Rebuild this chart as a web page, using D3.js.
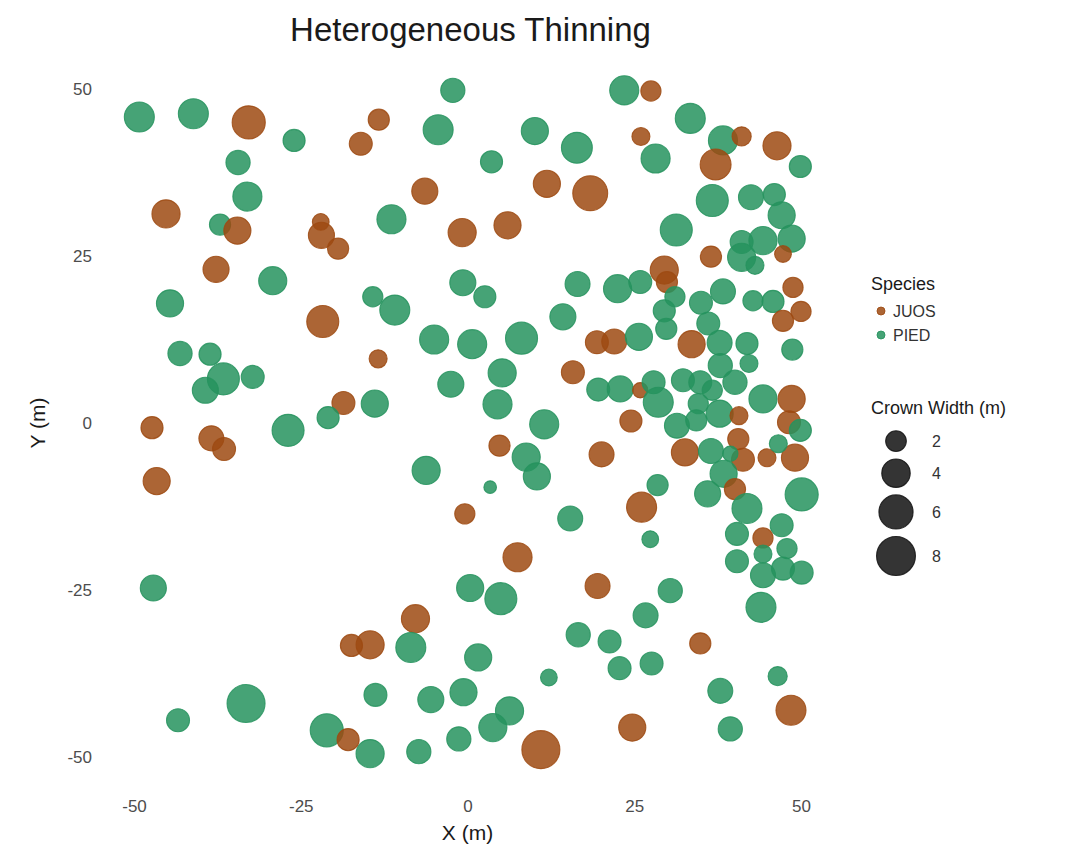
<!DOCTYPE html>
<html>
<head>
<meta charset="utf-8">
<script src="https://cdn.jsdelivr.net/npm/d3@7"></script>
<style>
  html, body { margin: 0; padding: 0; background: #ffffff; }
  svg { display: block; font-family: "Liberation Sans", Arial, Helvetica, sans-serif; }
</style>
</head>
<body>
<div id="chart"></div>
<script>
// ---- Data ----
const title = "Heterogeneous Thinning";
const xLabel = "X (m)";
const yLabel = "Y (m)";
const speciesNames = ["JUOS", "PIED"];
const xTicks = [-50, -25, 0, 25, 50];
const yTicks = [-50, -25, 0, 25, 50];
const sizeBreaks = [2, 4, 6, 8];
const sizeDomain = [0.5, 9];

const treeX = [
  -49.2,-41.1,-32.8,-26.0,-34.4,-33.0,-45.2,-37.1,-34.5,-22.0,-21.9,-19.4,-37.7,-29.2,-44.6,-21.7,
  -2.2,-13.3,-16.0,-4.4,10.1,16.4,3.6,-6.4,11.9,18.4,-11.4,-0.8,6.0,-0.7,2.6,16.5,-14.2,-10.9,14.3,
  23.5,27.5,33.4,26.0,28.2,38.3,41.1,46.4,49.9,37.2,36.7,42.5,46.0,47.1,31.3,41.1,44.3,48.6,41.1,43.1,
  47.3,36.5,29.5,29.9,31.1,22.5,25.9,29.5,35.0,38.3,42.8,45.8,48.8,50.0,47.3,29.8,19.4,22.0,25.7,36.1,
  33.6,37.8,41.9,42.2,48.7,37.9,19.6,22.9,25.9,27.9,28.6,32.3,34.9,36.7,40.1,44.3,48.6,34.6,31.4,34.3,
  37.8,40.7,48.2,49.9,24.5,20.1,32.6,36.5,40.6,41.3,39.4,44.9,49.1,46.6,38.4,28.5,26.1,36.0,40.1,41.9,
  50.1,47.1,40.4,44.3,27.4,47.9,40.4,44.3,44.3,47.3,50.1,44.0,19.5,30.4,26.7,21.3,22.8,27.6,34.9,37.9,
  39.4,46.5,48.5,24.7,7.5,0.4,5.0,-7.8,-14.6,-8.5,1.6,16.6,12.2,-13.8,-5.5,-0.6,6.3,3.8,-1.3,-7.3,-14.6,
  11.0,-47.1,-43.4,-33.2,-21.1,-17.9,-17.4,-43.1,-38.6,-36.6,-39.3,-32.2,-18.6,-20.9,-26.9,-47.3,-38.4,
  -36.5,-46.6,-5.0,0.7,8.1,-13.4,15.8,-2.5,5.2,4.5,-13.9,11.5,4.8,8.8,10.4,-6.2,3.4,-0.4,15.4
];
const treeY = [
  45.8,46.3,45.0,42.3,39.0,33.9,31.3,29.7,28.8,30.1,28.1,26.1,23.0,21.3,17.9,15.2,
  49.8,45.4,41.8,43.9,43.7,41.2,39.1,34.7,35.8,34.4,30.5,28.5,29.6,21.0,18.9,20.8,18.9,16.9,15.9,
  49.8,49.7,45.6,42.9,39.6,42.3,42.9,41.5,38.4,38.7,33.3,33.8,34.2,31.1,28.9,27.1,27.3,27.6,24.8,23.6,
  25.3,24.9,22.9,21.1,18.9,20.1,21.1,16.8,18.0,19.7,18.3,18.2,20.3,16.7,15.3,14.1,12.1,12.2,12.9,14.9,
  11.8,12.0,11.9,8.9,11.0,8.6,5.0,5.1,4.9,6.1,3.1,6.4,6.1,4.9,6.1,3.6,3.6,2.9,-0.4,0.4,
  1.4,1.1,0.1,-1.1,0.3,-4.7,-4.4,-4.2,-2.4,-5.5,-4.6,-5.2,-5.2,-3.1,-7.6,-9.3,-12.6,-10.6,-9.9,-12.8,
  -10.7,-15.3,-16.6,-17.2,-17.4,-18.8,-20.7,-19.6,-22.8,-21.8,-22.4,-27.6,-24.4,-25.1,-28.8,-32.7,-36.7,-36.0,-33.0,-40.1,
  -45.8,-37.9,-43.0,-45.6,-20.1,-24.7,-26.3,-29.3,-33.2,-33.6,-35.1,-31.7,-38.1,-40.7,-41.4,-40.3,-43.1,-45.6,-47.3,-49.2,-49.5,
  -48.9,-24.7,-44.5,-42.0,-46.0,-47.4,-33.3,10.4,10.3,6.6,4.9,6.9,3.0,0.8,-1.1,-0.7,-2.3,
  -3.9,-8.7,12.5,11.8,12.7,9.6,7.6,5.8,7.5,2.8,2.9,-0.2,-3.4,-5.1,-8.0,-7.1,-9.6,-13.6,-14.3
];
const crownWidth = [
  4.5,4.5,5.6,2.3,2.8,4.2,3.9,2.1,3.6,1.3,3.3,2.1,3.3,3.9,3.6,5.2,
  2.8,2.1,2.5,4.5,3.6,4.8,2.3,3.3,3.6,6.3,4.2,3.9,3.6,3.3,2.3,3.0,1.9,4.5,3.3,
  4.2,1.9,4.5,1.5,4.2,4.2,1.7,3.9,2.3,4.8,5.2,3.0,2.3,3.6,5.2,2.5,3.9,3.6,3.9,1.5,
  1.3,2.1,3.9,2.1,1.9,3.9,2.5,2.3,2.5,3.0,1.9,2.3,1.9,1.9,2.1,2.1,2.5,3.0,3.6,2.5,
  3.6,3.0,2.3,1.5,2.1,2.8,2.5,3.3,1.1,2.5,4.5,2.5,2.5,1.9,2.8,3.9,3.6,1.9,3.0,2.1,
  3.6,1.5,2.5,2.3,2.3,3.0,3.6,3.0,2.1,2.5,1.1,1.5,3.6,1.5,3.6,2.1,4.5,3.3,2.1,4.5,
  5.6,2.5,2.5,1.9,1.3,1.9,2.5,1.5,3.0,2.5,2.5,4.5,3.0,2.8,3.0,2.5,2.5,2.5,2.1,3.0,
  2.8,1.7,4.5,3.6,4.2,3.6,5.2,3.9,3.9,4.5,3.6,2.8,1.3,2.5,3.3,3.6,3.9,3.9,2.8,2.8,3.9,
  7.6,3.3,2.5,7.6,5.6,2.3,2.3,2.8,2.3,5.2,3.3,2.5,2.5,2.3,5.2,2.3,3.0,
  2.5,3.6,4.2,4.2,5.2,1.5,2.5,3.3,3.9,4.2,3.6,4.2,2.1,3.9,3.6,3.9,0.8,1.9,3.0
];
const species = [
  "PIED","PIED","JUOS","PIED","PIED","PIED","JUOS","PIED","JUOS","JUOS","JUOS","JUOS","JUOS","PIED","PIED","JUOS",
  "PIED","JUOS","JUOS","PIED","PIED","PIED","PIED","JUOS","JUOS","JUOS","PIED","JUOS","JUOS","PIED","PIED","PIED","PIED","PIED","PIED",
  "PIED","JUOS","PIED","JUOS","PIED","PIED","JUOS","JUOS","PIED","JUOS","PIED","PIED","PIED","PIED","PIED","PIED","PIED","PIED","PIED","PIED",
  "JUOS","JUOS","JUOS","JUOS","PIED","PIED","PIED","PIED","PIED","PIED","PIED","PIED","JUOS","JUOS","JUOS","PIED","JUOS","JUOS","PIED","PIED",
  "JUOS","PIED","PIED","PIED","PIED","PIED","PIED","PIED","JUOS","PIED","PIED","PIED","PIED","PIED","PIED","PIED","JUOS","PIED","PIED","PIED",
  "PIED","JUOS","JUOS","PIED","JUOS","JUOS","JUOS","PIED","JUOS","JUOS","PIED","JUOS","JUOS","PIED","PIED","PIED","JUOS","PIED","JUOS","PIED",
  "PIED","PIED","PIED","JUOS","PIED","PIED","PIED","PIED","PIED","PIED","PIED","PIED","JUOS","PIED","PIED","PIED","PIED","PIED","JUOS","PIED",
  "PIED","PIED","JUOS","JUOS","JUOS","PIED","PIED","JUOS","JUOS","PIED","PIED","PIED","PIED","PIED","PIED","PIED","PIED","PIED","PIED","PIED","PIED",
  "JUOS","PIED","PIED","PIED","PIED","JUOS","JUOS","PIED","PIED","PIED","PIED","PIED","JUOS","PIED","PIED","JUOS","JUOS",
  "JUOS","JUOS","PIED","PIED","PIED","JUOS","JUOS","PIED","PIED","PIED","PIED","PIED","JUOS","PIED","PIED","PIED","PIED","JUOS","PIED"
];

// ---- Styling ----
const W = 1066, H = 857;
const panel = { left: 134, right: 801, top: 89, bottom: 757 };
const colorMap = { JUOS: "#9e4a12", PIED: "#26935e" };
const alpha = 0.85;

const svg = d3.select("#chart").append("svg").attr("width", W).attr("height", H);

const x = d3.scaleLinear().domain([-50, 50]).range([panel.left, panel.right]);
const y = d3.scaleLinear().domain([-50, 50]).range([panel.bottom, panel.top]);
const color = d3.scaleOrdinal().domain(speciesNames).range(speciesNames.map(s => colorMap[s]));
const sizeT = d3.scaleLinear().domain(sizeDomain).range([0, 1]).clamp(true);
const diam = d3.scaleSqrt().domain([0, 1]).range([6, 41]);
const radius = v => diam(sizeT(v)) / 2;

const trees = treeX.map((d, i) => ({ x: d, y: treeY[i], w: crownWidth[i], sp: species[i] }));

// Points
svg.append("g").selectAll("circle").data(trees).join("circle")
  .attr("cx", d => x(d.x))
  .attr("cy", d => y(d.y))
  .attr("r", d => radius(d.w))
  .attr("fill", d => color(d.sp))
  .attr("fill-opacity", alpha)
  .attr("stroke", d => color(d.sp))
  .attr("stroke-opacity", alpha)
  .attr("stroke-width", 1.1);

// Axes (no lines, ticks only as labels)
const fmt = d => String(d);
const xAxis = svg.append("g").attr("transform", `translate(0,${panel.bottom + 49})`)
  .call(d3.axisBottom(x).tickValues(xTicks).tickSize(0).tickPadding(0).tickFormat(fmt));
xAxis.select(".domain").remove();
xAxis.selectAll("text").attr("fill", "#4d4d4d").attr("font-size", 17)
  .attr("font-family", "Liberation Sans, Arial, sans-serif").attr("dy", "0.35em").attr("y", 0);

const yAxis = svg.append("g").attr("transform", `translate(${panel.left - 42},0)`)
  .call(d3.axisLeft(y).tickValues(yTicks).tickSize(0).tickPadding(0).tickFormat(fmt));
yAxis.select(".domain").remove();
yAxis.selectAll("text").attr("fill", "#4d4d4d").attr("font-size", 17)
  .attr("font-family", "Liberation Sans, Arial, sans-serif").attr("x", 0);

// Title and axis titles
svg.append("text").attr("x", (panel.left + panel.right) / 2 + 3).attr("y", 41)
  .attr("text-anchor", "middle").attr("font-size", 33).attr("fill", "#1a1a1a").text(title);
svg.append("text").attr("x", (panel.left + panel.right) / 2).attr("y", 840)
  .attr("text-anchor", "middle").attr("font-size", 21).attr("fill", "#1a1a1a").text(xLabel);
svg.append("text").attr("transform", `translate(45,${(panel.top + panel.bottom) / 2}) rotate(-90)`)
  .attr("text-anchor", "middle").attr("font-size", 21).attr("fill", "#1a1a1a").text(yLabel);

// Legend: species
const legX = 871;
const lg = svg.append("g");
lg.append("text").attr("x", legX).attr("y", 290).attr("font-size", 18).attr("fill", "#1a1a1a").text("Species");
speciesNames.forEach((s, i) => {
  const cy = 311 + i * 24;
  lg.append("circle").attr("cx", legX + 10).attr("cy", cy).attr("r", 4)
    .attr("fill", color(s)).attr("fill-opacity", alpha).attr("stroke", color(s)).attr("stroke-opacity", alpha);
  lg.append("text").attr("x", legX + 22).attr("y", cy).attr("dy", "0.35em")
    .attr("font-size", 16).attr("fill", "#333").text(s);
});

// Legend: crown width
lg.append("text").attr("x", legX).attr("y", 414).attr("font-size", 18).attr("fill", "#1a1a1a").text("Crown Width (m)");
let cursor = 427;
sizeBreaks.forEach(b => {
  const dd = diam(sizeT(b));
  const key = dd + 7.5;
  const cy = cursor + key / 2;
  cursor += key;
  lg.append("circle").attr("cx", legX + 25).attr("cy", cy).attr("r", dd / 2)
    .attr("fill", "#111").attr("fill-opacity", alpha).attr("stroke", "#111").attr("stroke-opacity", alpha).attr("stroke-width", 1.1);
  lg.append("text").attr("x", legX + 61).attr("y", cy).attr("dy", "0.35em")
    .attr("font-size", 16).attr("fill", "#333").text(b);
});
</script>
</body>
</html>
